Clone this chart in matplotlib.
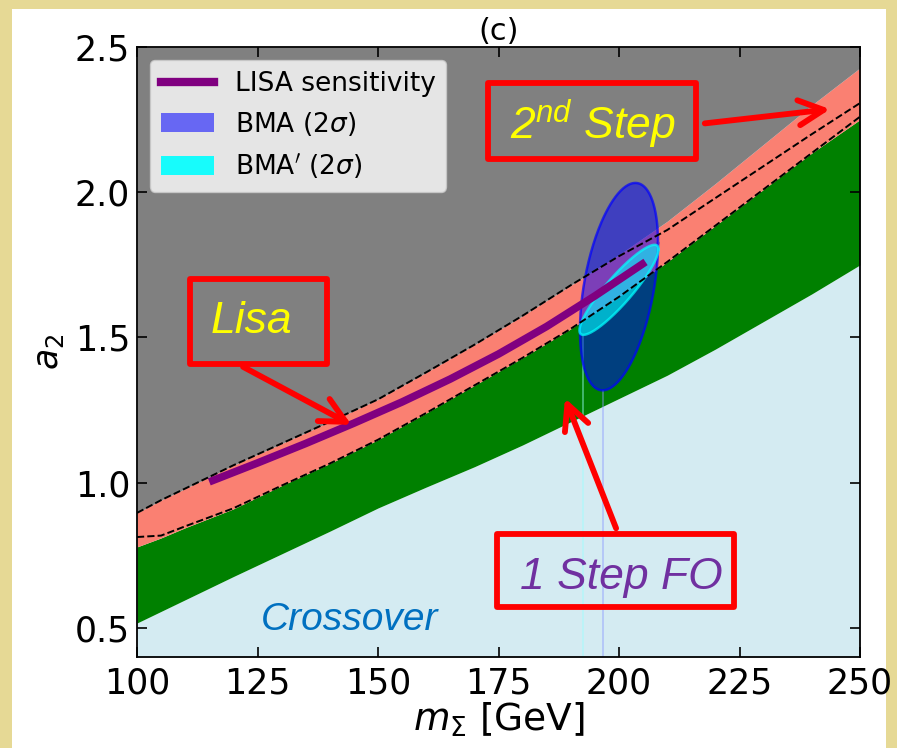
import numpy as np
import matplotlib
matplotlib.use("Agg")
import matplotlib.pyplot as plt
from matplotlib.patches import Rectangle, Patch
from matplotlib.lines import Line2D

# ---- mathtext: 'custom' set only used by the "2nd Step" label ----
plt.rcParams['mathtext.fontset'] = 'dejavusans'
plt.rcParams['mathtext.it'] = 'Liberation Sans:italic'
plt.rcParams['mathtext.rm'] = 'Liberation Sans:italic'

# ======================== data ========================
m_sigma = [100, 105, 110, 120, 130, 140, 150, 160, 170, 180, 190, 200, 210, 220, 230, 240, 250]
# top edge of the 2-step (salmon) region
two_step_top = [0.896, 0.94, 0.98, 1.06, 1.135, 1.21, 1.287, 1.38, 1.475, 1.575, 1.68, 1.785, 1.90, 2.03, 2.165, 2.30, 2.428]
# dashed boundaries
dashed_upper = [0.896, 0.94, 0.98, 1.06, 1.135, 1.21, 1.287, 1.38, 1.475, 1.575, 1.68, 1.78, 1.87, 1.98, 2.09, 2.20, 2.307]
dashed_lower = [0.813, 0.818, 0.85, 0.912, 0.99, 1.066, 1.148, 1.24, 1.335, 1.43, 1.53, 1.64, 1.76, 1.885, 2.01, 2.135, 2.26]
# 1-step FO (green) region
one_step_top = [0.779, 0.81, 0.845, 0.91, 0.99, 1.066, 1.148, 1.24, 1.335, 1.43, 1.53, 1.64, 1.76, 1.885, 2.01, 2.135, 2.25]
one_step_bottom = [0.517, 0.557, 0.597, 0.677, 0.755, 0.833, 0.913, 0.985, 1.055, 1.13, 1.21, 1.29, 1.37, 1.46, 1.555, 1.65, 1.75]

# LISA sensitivity curve
lisa_m = [115, 125, 135, 145, 155, 165, 175, 185, 195, 205.5]
lisa_a2 = [1.003, 1.068, 1.135, 1.205, 1.278, 1.357, 1.443, 1.538, 1.643, 1.76]

# 2 sigma ellipses: centre, half extents, correlation
bma_center = (200.0, 1.675)
bma_half = (8.1, 0.357)
bma_rho = 0.42
bmap_center = (200.0, 1.664)
bmap_half = (8.2, 0.155)
bmap_rho = 0.90

x_lim = (100, 250)
y_lim = (0.4, 2.5)
x_ticks = [100, 125, 150, 175, 200, 225, 250]
y_ticks = [0.5, 1.0, 1.5, 2.0, 2.5]


def sigma_ellipse(center, half, rho, n=300):
    t = np.linspace(0, 2 * np.pi, n)
    ex = center[0] + half[0] * np.cos(t)
    ey = center[1] + half[1] * (rho * np.cos(t) + np.sqrt(1 - rho ** 2) * np.sin(t))
    return ex, ey


# ======================== figure ========================
fig = plt.figure(figsize=(8.97, 7.48), dpi=100)
fig.patch.set_facecolor('#e6d995')
fig.patches.append(Rectangle((12 / 897, 0), (886 - 12) / 897, (748 - 9) / 748,
                             transform=fig.transFigure, fc='white', ec='none', zorder=-1))

ax = fig.add_axes([137 / 897, 1 - 657 / 748, (860 - 137) / 897, (657 - 47) / 748])
ax.set_zorder(1)
ax.set_xlim(*x_lim)
ax.set_ylim(*y_lim)

# regions
ax.fill_between(m_sigma, y_lim[0], one_step_bottom, color='#d4ebf2', lw=0, zorder=1)
ax.fill_between(m_sigma, one_step_bottom, one_step_top, color='green', lw=0, zorder=1)
ax.fill_between(m_sigma, one_step_top, two_step_top, color='salmon', lw=0, zorder=1)
ax.fill_between(m_sigma, two_step_top, y_lim[1], color='gray', lw=0, zorder=1)

# ellipses
for center, half, rho, fc, ec, fa, tail_c in [
        (bma_center, bma_half, bma_rho, 'blue', 'blue', 0.5, (0.55, 0.6, 1.0, 0.5)),
        (bmap_center, bmap_half, bmap_rho, 'cyan', 'cyan', 0.6, (0.6, 1.0, 1.0, 0.5))]:
    ex, ey = sigma_ellipse(center, half, rho)
    ax.fill(ex, ey, color=fc, alpha=fa, lw=0, zorder=3)
    ax.plot(ex, ey, color=ec, alpha=0.7, lw=1.8, zorder=3)
    ax.vlines(center[0] - rho * half[0], y_lim[0], center[1] - half[1],
              color=tail_c, lw=1.2, zorder=2)

# LISA curve
ax.plot(lisa_m, lisa_a2, color='purple', lw=5.5, solid_capstyle='butt',
        solid_joinstyle='round', zorder=4)

# dashed boundaries
ax.plot(m_sigma, dashed_upper, 'k--', lw=1.4, zorder=5)
ax.plot(m_sigma, dashed_lower, 'k--', lw=1.4, zorder=5)

# ---- annotations ----
ann_font = dict(family='Liberation Sans', style='italic', ha='center', va='baseline', zorder=7)
box_kw = dict(fill=False, ec='red', lw=4.2, joinstyle='round', zorder=6)

ax.add_patch(Rectangle((172.8, 2.114), 216.0 - 172.8, 2.376 - 2.114, **box_kw))
ax.text(194.5, 2.182, r'2$^{nd}$ Step', color='yellow', fontsize=32,
        math_fontfamily='custom', **ann_font)

ax.add_patch(Rectangle((110.9, 1.408), 139.4 - 110.9, 1.700 - 1.408, **box_kw))
ax.text(123.7, 1.5155, 'Lisa', color='yellow', fontsize=32, **ann_font)

ax.add_patch(Rectangle((174.75, 0.571), 223.9 - 174.75, 0.824 - 0.571, **box_kw))
ax.text(200.4, 0.634, '1 Step FO', color='#7030a0', fontsize=32, **ann_font)

ax.text(144.2, 0.493, 'Crossover', color='#0070c0', fontsize=28, **ann_font)

arrow_kw = dict(arrowstyle='->,head_length=0.9,head_width=0.45', color='red', lw=4.2,
                mutation_scale=20, shrinkA=0, shrinkB=0)
ax.annotate('', xy=(243.8, 2.286), xytext=(217.8, 2.237), arrowprops=arrow_kw, zorder=7)
ax.annotate('', xy=(144.5, 1.199), xytext=(122.0, 1.399), arrowprops=arrow_kw, zorder=7)
ax.annotate('', xy=(188.8, 1.291), xytext=(199.4, 0.843), arrowprops=arrow_kw, zorder=7)

# ---- legend ----
handles = [Line2D([], [], color='purple', lw=6),
           Patch(facecolor='blue', alpha=0.55, edgecolor='none'),
           Patch(facecolor='cyan', alpha=0.9, edgecolor='none')]
labels = ['LISA sensitivity', r'BMA (2$\sigma$)', r"BMA$'$ (2$\sigma$)"]
leg = ax.legend(handles, labels, loc='upper left', fontsize=19)
leg.set_zorder(10)

# ---- axes style ----
ax.set_xticks(x_ticks)
ax.set_yticks(y_ticks)
ax.tick_params(direction='in', top=True, right=True, length=7, width=1.2, labelsize=25)
ax.tick_params(axis='x', pad=7)
ax.tick_params(axis='y', pad=5)
for sp in ax.spines.values():
    sp.set_linewidth(1.3)
    sp.set_zorder(8)

ax.set_xlabel(r'$m_{\Sigma}$ [GeV]', fontsize=27, labelpad=0)
ax.set_ylabel(r'$a_2$', fontsize=25, labelpad=6)
ax.set_title('(c)', fontsize=22, pad=5)

fig.savefig('out.png', dpi=100, facecolor=fig.get_facecolor())
